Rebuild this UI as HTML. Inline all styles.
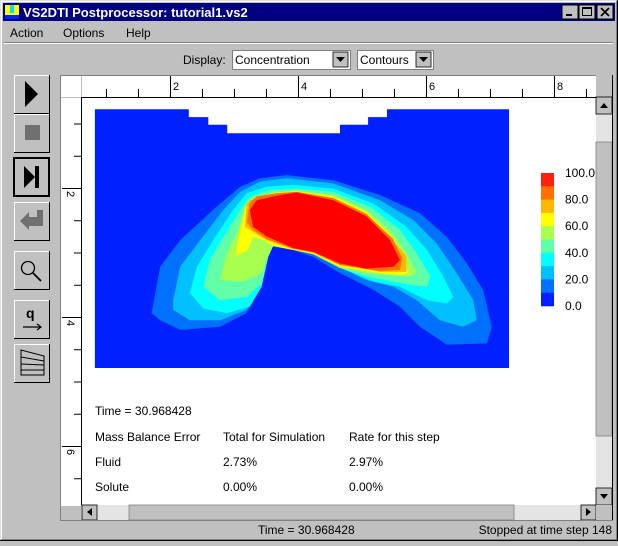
<!DOCTYPE html>
<html><head><meta charset="utf-8">
<style>
html,body{margin:0;padding:0;background:#c0c0c0;}
body{width:618px;height:541px;overflow:hidden;position:relative;font-family:"Liberation Sans",sans-serif;}
svg text{font-family:"Liberation Sans",sans-serif;}
</style></head>
<body>
<svg id="scr" width="618" height="541" viewBox="0 0 618 541" xmlns="http://www.w3.org/2000/svg">
  <!-- window frame -->
  <rect x="0" y="0" width="618" height="541" fill="#c0c0c0"/>
  <path d="M0.5 540V0.5H617" stroke="#dfdfdf" fill="none"/>
  <path d="M1.5 539V1.5H616" stroke="#ffffff" fill="none"/>
  <path d="M617.5 0V540.5H0" stroke="#000" fill="none"/>
  <path d="M616.5 1V539.5H1" stroke="#808080" fill="none"/>
  <!-- title bar -->
  <g>
    <rect x="3" y="3" width="612" height="18" fill="#000080"/>
    <rect x="5" y="5" width="14" height="10" fill="#ffff00"/>
    <rect x="10" y="5" width="4" height="8" fill="#00e0ff"/>
    <rect x="5" y="15" width="14" height="4" fill="#0020ff"/>
    <text x="23" y="17" fill="#fff" font-size="13" font-weight="bold">VS2DTI Postprocessor: tutorial1.vs2</text>
    <g>
      <rect x="562" y="5" width="16" height="14" fill="#c0c0c0" stroke="#000"/><rect x="566" y="14" width="6" height="2" fill="#000"/>
    </g>
    <g>
      <rect x="579" y="5" width="16" height="14" fill="#c0c0c0" stroke="#000"/><rect x="582.5" y="7.5" width="9" height="8" fill="none" stroke="#000"/><rect x="582" y="7" width="10" height="2" fill="#000"/>
    </g>
    <g>
      <rect x="597" y="5" width="16" height="14" fill="#c0c0c0" stroke="#000"/><path d="M601 8L609 16M609 8L601 16" stroke="#000" stroke-width="1.8"/>
    </g>
  </g>
  <!-- menu -->
  <g font-size="12" fill="#000">
    <text x="10" y="37">Action</text>
    <text x="63" y="37">Options</text>
    <text x="126" y="37">Help</text>
  </g>
  <line x1="4" y1="42.5" x2="613" y2="42.5" stroke="#808080"/>
  <line x1="4" y1="43.5" x2="613" y2="43.5" stroke="#fff"/>
  <!-- display row -->
  <text x="183" y="64" font-size="12">Display:</text>
  <g>
    <rect x="232.5" y="50.5" width="118" height="19" fill="#fff" stroke="#808080"/>
    <text x="235" y="64" font-size="12">Concentration</text>
    <rect x="333" y="52" width="15" height="15" fill="#c0c0c0" stroke="#000" stroke-width="0.8"/>
    <path d="M336 57H345L340.5 62Z" fill="#000"/>
  </g>
  <g>
    <rect x="357.5" y="50.5" width="76" height="19" fill="#fff" stroke="#808080"/>
    <text x="360" y="64" font-size="12">Contours</text>
    <rect x="416" y="52" width="15" height="15" fill="#c0c0c0" stroke="#000" stroke-width="0.8"/>
    <path d="M419 57H428L423.5 62Z" fill="#000"/>
  </g>
  <!-- toolbar -->
  <g id="toolbar">
    <g>
      <rect x="14" y="75" width="35" height="38" fill="#c0c0c0"/><path d="M14.5 113V75.5H49" stroke="#fff" fill="none"/><path d="M49.5 75V113.5H14" stroke="#000" fill="none"/>
      <path d="M25 81L38 94L25 107Z" fill="#000"/>
    </g>
    <g>
      <rect x="14" y="114" width="35" height="38" fill="#c0c0c0"/><path d="M14.5 152V114.5H49" stroke="#fff" fill="none"/><path d="M49.5 114V152.5H14" stroke="#000" fill="none"/>
      <rect x="25" y="125" width="15" height="15" fill="#707070"/>
    </g>
    <g>
      <rect x="14" y="158" width="35" height="38" fill="#c0c0c0" stroke="#000" stroke-width="2"/>
      <path d="M24 166L35 177L24 188Z" fill="#000"/><rect x="35" y="166" width="4" height="22" fill="#000"/>
    </g>
    <g>
      <rect x="14" y="202" width="35" height="38" fill="#c0c0c0"/><path d="M14.5 240V202.5H49" stroke="#fff" fill="none"/><path d="M49.5 202V240.5H14" stroke="#000" fill="none"/>
      <path d="M20 221L29 212V217H37V210H43V226H29V230Z" fill="#707070"/>
    </g>
    <g>
      <rect x="14" y="251" width="35" height="38" fill="#c0c0c0"/><path d="M14.5 289V251.5H49" stroke="#fff" fill="none"/><path d="M49.5 251V289.5H14" stroke="#000" fill="none"/>
      <circle cx="28" cy="268" r="6.5" fill="none" stroke="#000" stroke-width="1.3"/><path d="M33 273L41 281" stroke="#000" stroke-width="1.8"/>
    </g>
    <g>
      <rect x="14" y="300" width="35" height="38" fill="#c0c0c0"/><path d="M14.5 338V300.5H49" stroke="#fff" fill="none"/><path d="M49.5 300V338.5H14" stroke="#000" fill="none"/>
      <text x="26" y="318" font-size="14" font-weight="bold">q</text><path d="M23 327H40M37 324L41 327L37 330" stroke="#000" fill="none" stroke-width="1.2"/>
    </g>
    <g>
      <rect x="14" y="344" width="35" height="38" fill="#c0c0c0"/><path d="M14.5 382V344.5H49" stroke="#fff" fill="none"/><path d="M49.5 344V382.5H14" stroke="#000" fill="none"/>
      <path d="M21 350V375H44V356Z M21 357L44 361M21 364L44 365M21 370L44 370" stroke="#000" fill="none"/>
    </g>
  </g>
  <!-- canvas panel -->
  <line x1="60.5" y1="75" x2="60.5" y2="521" stroke="#808080"/>
  <rect x="61" y="75" width="535" height="431" fill="#fff"/>
  <line x1="61" y1="75.5" x2="596" y2="75.5" stroke="#808080"/>
  <line x1="81.5" y1="97" x2="81.5" y2="506" stroke="#000"/>
  <line x1="81" y1="97.5" x2="596" y2="97.5" stroke="#000"/>
  <line x1="81.5" y1="76" x2="81.5" y2="97" stroke="#c0c0c0"/>
  <line x1="61" y1="97.5" x2="81" y2="97.5" stroke="#c0c0c0"/>
  <g id="rulers"></g>
  <g id="plot"></g>
  <g id="legend"></g>
  <!-- mass balance text -->
  <g font-size="12" fill="#000">
    <text x="95" y="415">Time = 30.968428</text>
    <text x="95" y="441">Mass Balance Error</text>
    <text x="223" y="441">Total for Simulation</text>
    <text x="349" y="441">Rate for this step</text>
    <text x="95" y="466">Fluid</text>
    <text x="223" y="466">2.73%</text>
    <text x="349" y="466">2.97%</text>
    <text x="95" y="491">Solute</text>
    <text x="223" y="491">0.00%</text>
    <text x="349" y="491">0.00%</text>
  </g>
  <!-- vertical scrollbar -->
  <g>
    <rect x="596" y="97" width="16" height="409" fill="#e4e4e4"/>
    <rect x="596" y="97" width="16" height="17" fill="#c0c0c0" stroke="#000" stroke-width="0.8"/>
    <path d="M600 108H608L604 103Z" fill="#000"/>
    <rect x="596" y="142" width="16" height="294" fill="#c0c0c0" stroke="#808080" stroke-width="0.8"/>
    <rect x="596" y="488" width="16" height="17" fill="#c0c0c0" stroke="#000" stroke-width="0.8"/>
    <path d="M600 494H608L604 499Z" fill="#000"/>
  </g>
  <!-- horizontal scrollbar -->
  <g>
    <rect x="81" y="505" width="515" height="15" fill="#e4e4e4"/>
    <rect x="82" y="505" width="15" height="15" fill="#c0c0c0" stroke="#000" stroke-width="0.8"/>
    <path d="M92 508V516L87 512Z" fill="#000"/>
    <rect x="129" y="505" width="385" height="15" fill="#c0c0c0" stroke="#808080" stroke-width="0.8"/>
    <rect x="581" y="505" width="15" height="15" fill="#c0c0c0" stroke="#000" stroke-width="0.8"/>
    <path d="M586 508V516L591 512Z" fill="#000"/>
  </g>
  <rect x="596" y="505" width="16" height="15" fill="#c0c0c0"/>
  <line x1="612.5" y1="75" x2="612.5" y2="521" stroke="#000"/>
  <line x1="60" y1="520.5" x2="613" y2="520.5" stroke="#808080"/>
  <!-- status bar -->
  <text x="258" y="534" font-size="12">Time = 30.968428</text>
  <text x="612" y="534" font-size="12" text-anchor="end">Stopped at time step 148</text>
</svg>
<script>
// ---- data ----
const legendLevels = [100, 90, 80, 70, 60, 50, 40, 30, 20, 10];
const legendLabels = ["100.0", "80.0", "60.0", "40.0", "20.0", "0.0"];
const legendColors = ["#ff2010", "#ff7000", "#ffb800", "#ffff00", "#a8ff50", "#60ffa8", "#00ffff", "#00c0ff", "#0070ff", "#0020ff"];
const rulerXTicks = [2, 4, 6, 8];
const rulerYTicks = [2, 4, 6];
// domain outline (x, depth)
const domainOutline = [[1.09,0.78],[2.83,0.78],[2.83,0.90],[3.19,0.90],[3.19,1.02],[3.54,1.02],[3.54,1.15],[5.63,1.15],[5.63,1.02],[6.15,1.02],[6.15,0.90],[6.50,0.90],[6.50,0.78],[8.76,0.78],[8.76,4.79],[1.09,4.79]];
// contour polygons (x, depth), outer to inner
const contourLevels = [10, 20, 30, 40, 50, 60, 70, 80, 90];
const contour10 = [[2.14,3.94],[2.30,3.22],[2.67,2.81],[3.28,2.34],[3.78,1.98],[4.15,1.85],[4.64,1.80],[5.51,1.88],[6.37,2.11],[7.11,2.39],[7.61,2.76],[7.98,3.17],[8.28,3.58],[8.44,4.15],[8.35,4.41],[7.61,4.43],[7.11,4.15],[6.74,3.84],[6.25,3.58],[5.63,3.32],[5.14,3.07],[4.76,2.96],[4.39,2.91],[4.27,3.07],[4.15,3.53],[3.90,3.94],[3.41,4.15],[2.67,4.20],[2.30,4.05]];
const contour20 = [[2.54,3.74],[2.67,3.22],[3.04,2.81],[3.47,2.34],[3.78,2.06],[4.15,1.90],[4.64,1.85],[5.51,1.93],[6.37,2.19],[6.99,2.50],[7.42,2.86],[7.79,3.32],[8.10,3.74],[8.16,4.05],[7.91,4.15],[7.48,4.05],[7.05,3.74],[6.62,3.53],[6.12,3.43],[5.63,3.22],[5.14,3.01],[4.76,2.93],[4.39,2.88],[4.27,3.07],[4.15,3.53],[3.90,3.89],[3.41,4.05],[2.85,4.05],[2.54,3.89]];
const contour30 = [[2.85,3.63],[2.98,3.22],[3.28,2.81],[3.65,2.34],[3.90,2.08],[4.27,1.98],[4.76,1.95],[5.51,2.01],[6.25,2.24],[6.86,2.60],[7.24,2.96],[7.54,3.37],[7.73,3.69],[7.61,3.79],[7.24,3.74],[6.74,3.53],[6.25,3.45],[5.63,3.24],[5.14,3.02],[4.76,2.95],[4.39,2.89],[4.30,3.07],[4.18,3.53],[3.96,3.84],[3.53,3.94],[3.10,3.87]];
const contour40 = [[3.10,3.53],[3.22,3.12],[3.47,2.76],[3.78,2.34],[3.96,2.13],[4.33,2.03],[4.83,2.01],[5.51,2.06],[6.19,2.29],[6.74,2.65],[7.05,3.01],[7.30,3.37],[7.24,3.53],[6.93,3.50],[6.49,3.43],[6.12,3.37],[5.63,3.24],[5.14,3.03],[4.76,2.96],[4.39,2.90],[4.30,3.07],[4.18,3.48],[3.90,3.69],[3.41,3.74]];
const contour50 = [[3.41,3.43],[3.53,3.01],[3.72,2.70],[3.87,2.34],[4.02,2.16],[4.39,2.07],[4.83,2.04],[5.51,2.11],[6.12,2.34],[6.62,2.70],[6.89,3.06],[7.05,3.32],[6.93,3.37],[6.49,3.35],[6.12,3.32],[5.63,3.24],[5.14,3.03],[4.76,2.96],[4.39,2.90],[4.30,3.04],[4.18,3.32],[3.84,3.45]];
const contour60 = [[3.69,3.06],[3.78,2.65],[3.87,2.29],[4.02,2.16],[4.39,2.08],[4.83,2.05],[5.51,2.13],[6.12,2.37],[6.56,2.73],[6.80,3.06],[6.89,3.32],[6.74,3.35],[6.37,3.32],[6.00,3.27],[5.63,3.22],[5.14,3.02],[4.76,2.96],[4.39,2.90],[4.24,2.81],[4.02,2.76],[3.93,2.96]];
const contour70 = [[3.87,2.60],[3.90,2.24],[4.09,2.13],[4.46,2.08],[4.83,2.06],[5.51,2.15],[6.12,2.39],[6.56,2.76],[6.86,3.06],[6.86,3.30],[6.37,3.30],[6.00,3.24],[5.63,3.20],[5.14,3.01],[4.76,2.95],[4.27,2.81],[4.02,2.68]];
const contour80 = [[3.90,2.53],[3.96,2.22],[4.09,2.13],[4.46,2.08],[4.83,2.06],[5.51,2.16],[6.12,2.41],[6.60,2.78],[6.78,3.08],[6.74,3.27],[6.37,3.29],[6.00,3.24],[5.63,3.19],[5.14,3.00],[4.76,2.94],[4.27,2.79],[4.02,2.65]];
const contour90 = [[3.96,2.34],[4.09,2.19],[4.52,2.11],[4.83,2.07],[5.51,2.19],[6.12,2.44],[6.56,2.81],[6.74,3.12],[6.62,3.22],[6.12,3.25],[5.63,3.17],[5.14,2.99],[4.76,2.93],[4.27,2.75],[4.02,2.60]];
const contourColors = ["#0070ff", "#00c0ff", "#00ffff", "#60ffa8", "#a8ff50", "#ffff00", "#ffb800", "#ff7000", "#ff0000"];

// ---- scales ----
function sx(v){ return 36 + 54 * v; }
function sy(d){ return 59 + 64.5 * d; }
function rx(v){ return 42 + 64 * v; }
function ry(v){ return 59 + 64.5 * v; }
const NS = "http://www.w3.org/2000/svg";
function mk(tag, attrs, parent){ const e = document.createElementNS(NS, tag); for (const k in attrs) e.setAttribute(k, attrs[k]); parent.appendChild(e); return e; }
function pts(arr){ return arr.map(p => sx(p[0]).toFixed(1) + "," + sy(p[1]).toFixed(1)).join(" "); }

// ---- rulers ----
const rulers = document.getElementById("rulers");
for (let v = 0.5; v <= 8.6; v += 0.5) {
  const x = rx(v);
  if (x < 82 || x > 595) continue;
  const major = Number.isInteger(v) && v % 2 === 0;
  const t = mk("line", {x1: x + 0.5, x2: x + 0.5, y1: major ? 76 : 89, y2: 97, stroke: "#000"}, rulers);
  
  
}
rulerXTicks.forEach(v => {
  const t = mk("text", {x: rx(v) + 3, y: 90, "font-size": "11"}, rulers);
  t.textContent = v;
  
  
});
for (let v = 1; v <= 7; v += 0.5) {
  const y = ry(v);
  if (y < 100 || y > 504) continue;
  const major = Number.isInteger(v) && v % 2 === 0;
  const t = mk("line", {x1: major ? 62 : 74, x2: 81, y1: y + 0.5, y2: y + 0.5, stroke: "#000"}, rulers);
  
  
}
rulerYTicks.forEach(v => {
  const t = mk("text", {x: 0, y: 0, "font-size": "11", transform: "translate(67," + (ry(v) + 3) + ") rotate(90)"}, rulers);
  t.textContent = v;
  
  
});

// ---- contour plot ----
const plot = document.getElementById("plot");
const dom = mk("polygon", {points: pts(domainOutline), fill: "#0020ff"}, plot);


const contours = [contour10, contour20, contour30, contour40, contour50, contour60, contour70, contour80, contour90];
contours.forEach((c, i) => {
  const p = mk("polygon", {points: pts(c), fill: contourColors[i]}, plot);
  
  
});

// ---- legend ----
const legend = document.getElementById("legend");
const boxH = 13.3;
legendLevels.forEach((lv, i) => {
  const r = mk("rect", {x: 541, y: 173 + i * boxH, width: 13, height: boxH + 0.3, fill: legendColors[i]}, legend);
  
  
});
legendLabels.forEach((lb, i) => {
  const t = mk("text", {x: 565, y: 177 + i * 2 * boxH, "font-size": "12"}, legend);
  t.textContent = lb;
  
  
});
</script>
</body></html>
